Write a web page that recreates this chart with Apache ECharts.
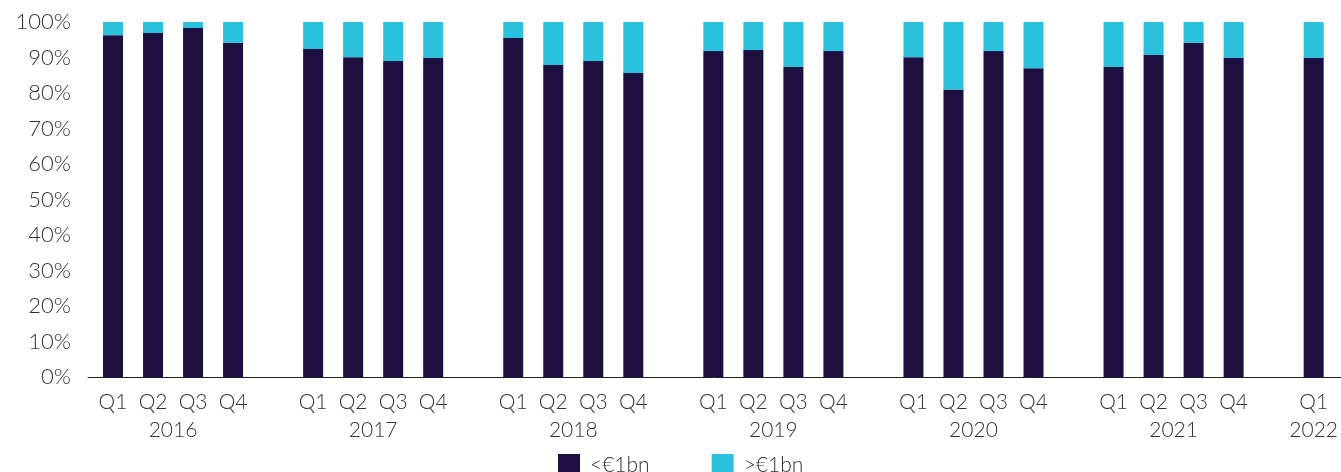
<!DOCTYPE html>
<html>
<head>
<meta charset="utf-8">
<script src="https://cdn.jsdelivr.net/npm/echarts@6/dist/echarts.min.js"></script>
<style>
  html, body { margin: 0; padding: 0; background: #fff; }
  #chart { width: 1341px; height: 472px; }
</style>
</head>
<body>
<div id="chart"></div>
<script>
// Share of deals by size, per quarter (percent of total)
const years = ['2016', '2017', '2018', '2019', '2020', '2021', '2022'];
const quarters = ['Q1', 'Q2', 'Q3', 'Q4'];
const seriesNames = ['<€1bn', '>€1bn'];
const yTicks = [0, 10, 20, 30, 40, 50, 60, 70, 80, 90, 100];

const below1bn = [
  [96.3, 96.9, 98.3, 94.1],
  [92.4, 90.1, 89.0, 89.9],
  [95.5, 87.9, 89.0, 85.6],
  [91.8, 92.1, 87.3, 91.8],
  [90.1, 81.0, 91.8, 87.0],
  [87.3, 90.7, 94.1, 89.9],
  [89.9]
];
const above1bn = [
  [3.7, 3.1, 1.7, 5.9],
  [7.6, 9.9, 11.0, 10.1],
  [4.5, 12.1, 11.0, 14.4],
  [8.2, 7.9, 12.7, 8.2],
  [9.9, 19.0, 8.2, 13.0],
  [12.7, 9.3, 5.9, 10.1],
  [10.1]
];

const DARK = '#1d1040';
const CYAN = '#29c1de';
const TEXT = '#333333';
const FONT = 'Lato';
const WEIGHT = 300;

// Category list: quarters of each year, with an empty slot between years
const categories = [];
const darkData = [];
const cyanData = [];
years.forEach((y, yi) => {
  below1bn[yi].forEach((v, qi) => {
    categories.push(y + '|' + quarters[qi] + '|' + below1bn[yi].length);
    darkData.push(v);
    cyanData.push(above1bn[yi][qi]);
  });
  if (yi < years.length - 1) {
    categories.push(y + '|gap|0');
    darkData.push(null);
    cyanData.push(null);
  }
});

// Quarter on the first line; year centred under its group of quarters
function labelFor(value) {
  const [year, q, count] = value.split('|');
  if (q === 'gap') return '';
  if (count === '1') return q + '\n' + year;
  if (q === 'Q2') return q + '\n{yr|' + year + '}';
  return q;
}

const chart = echarts.init(document.getElementById('chart'), null, { renderer: 'canvas' });
chart.setOption({
  animation: false,
  textStyle: { fontFamily: FONT },
  grid: [
    { left: 93, right: 5, top: 22, bottom: 95 },
    { left: 88, right: 0, top: 22, bottom: 95 }
  ],
  xAxis: [
    {
      type: 'category',
      gridIndex: 0,
      data: categories,
      axisLine: { show: false },
      axisTick: { show: false },
      axisLabel: {
        interval: 0,
        margin: 11,
        color: TEXT,
        fontFamily: FONT,
        fontWeight: WEIGHT,
        fontSize: 21,
        lineHeight: 28,
        formatter: labelFor,
        rich: {
          yr: {
            color: TEXT,
            fontFamily: FONT,
            fontWeight: WEIGHT,
            fontSize: 21,
            lineHeight: 28,
            padding: [0, 0, 0, 40]
          }
        }
      }
    },
    {
      type: 'category',
      gridIndex: 1,
      data: [''],
      axisLine: { show: true, lineStyle: { color: '#222', width: 1 } },
      axisTick: { show: false },
      axisLabel: { show: false }
    }
  ],
  yAxis: [
    {
      type: 'value',
      gridIndex: 0,
      min: yTicks[0],
      max: yTicks[yTicks.length - 1],
      interval: yTicks[1] - yTicks[0],
      splitLine: { show: false },
      axisLine: { show: false },
      axisTick: { show: false },
      axisLabel: {
        margin: 22,
        color: TEXT,
        fontFamily: FONT,
        fontWeight: WEIGHT,
        fontSize: 22,
        formatter: '{value}%'
      }
    },
    { type: 'value', gridIndex: 1, show: false, min: 0, max: 100 }
  ],
  legend: {
    top: 449,
    left: 553,
    icon: 'rect',
    itemWidth: 22,
    itemHeight: 22,
    itemGap: 62,
    textStyle: {
      color: TEXT,
      fontFamily: FONT,
      fontWeight: WEIGHT,
      fontSize: 21,
      padding: [0, 0, 0, 5]
    },
    data: seriesNames
  },
  series: [
    {
      name: seriesNames[0],
      type: 'bar',
      stack: 'share',
      barWidth: 20,
      itemStyle: { color: DARK },
      data: darkData
    },
    {
      name: seriesNames[1],
      type: 'bar',
      stack: 'share',
      barWidth: 20,
      itemStyle: { color: CYAN },
      data: cyanData
    }
  ]
});
</script>
</body>
</html>
